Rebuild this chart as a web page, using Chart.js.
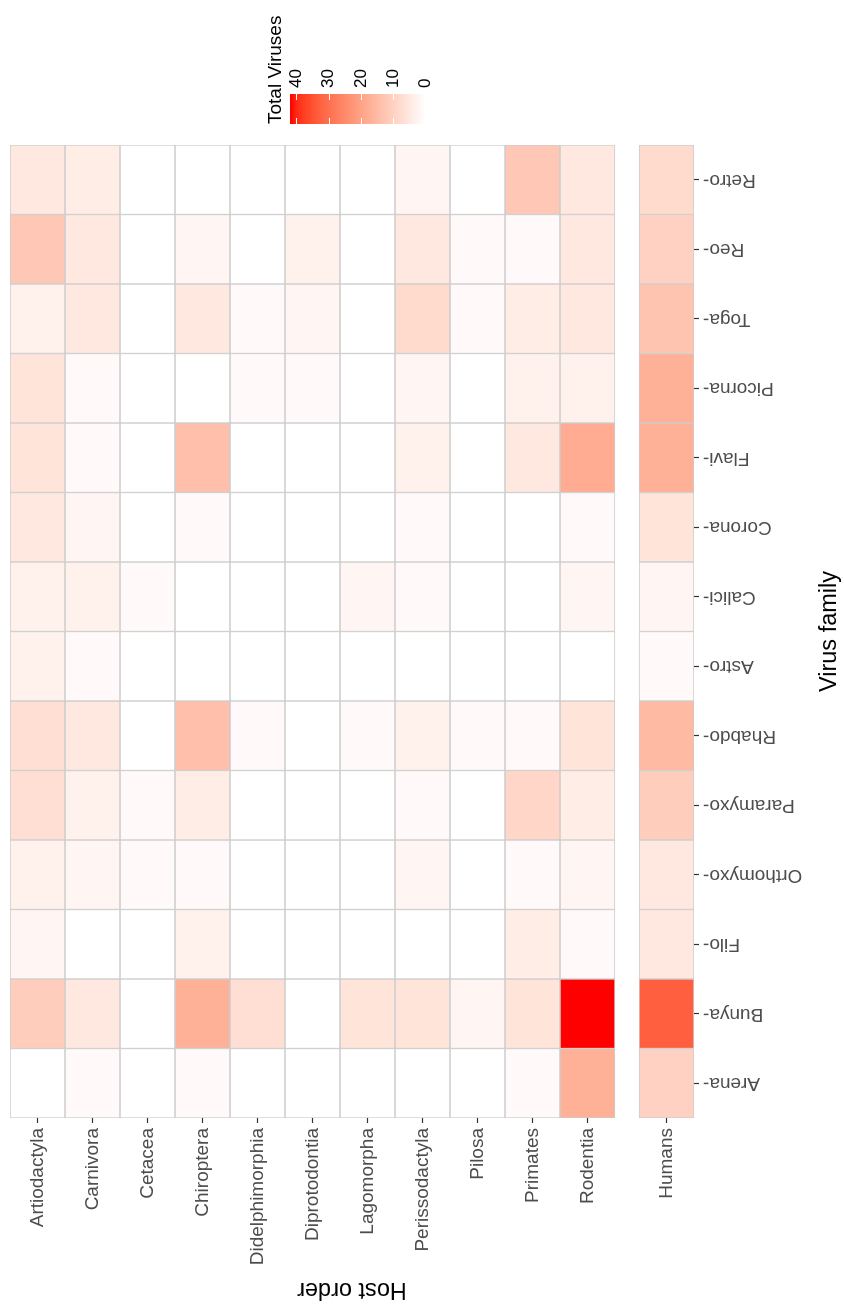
<!DOCTYPE html>
<html>
<head>
<meta charset="utf-8">
<script src="https://cdn.jsdelivr.net/npm/chart.js@4.4.1/dist/chart.umd.min.js"></script>
<style>
  html, body { margin: 0; padding: 0; background: #fff; overflow: hidden; }
  #page { width: 844px; height: 1306px; position: relative; }
  /* the ggplot figure is drawn upright, then turned a quarter turn counter-clockwise */
  #rot { position: absolute; left: 0; top: 0; width: 1306px; height: 844px;
         transform-origin: 0 0; transform: translateY(1306px) rotate(-90deg); }
  #heat { position: absolute; left: 0; top: 0; }
  #key { position: absolute; left: 1170px; top: 246px; }
</style>
</head>
<body>
<div id="page"><div id="rot">
  <canvas id="heat" width="1306" height="844"></canvas>
  <canvas id="key" width="136" height="196"></canvas>
</div></div>
<script>
const virusFamilies = ['Arena-', 'Bunya-', 'Filo-', 'Orthomyxo-', 'Paramyxo-', 'Rhabdo-', 'Astro-',
    'Calici-', 'Corona-', 'Flavi-', 'Picorna-', 'Toga-', 'Reo-', 'Retro-'];
const hostOrders = ['Artiodactyla', 'Carnivora', 'Cetacea', 'Chiroptera', 'Didelphimorphia', 'Diprotodontia',
    'Lagomorpha', 'Perissodactyla', 'Pilosa', 'Primates', 'Rodentia', 'Humans'];

// total viruses per virus family (same order as virusFamilies)
const artiodactyla    = [0, 11, 2, 3, 7, 7, 3, 3, 5, 6, 6, 3, 12, 5];
const carnivora       = [1, 5, 0, 2, 3, 5, 1, 3, 2, 1, 1, 5, 5, 4];
const cetacea         = [0, 0, 0, 1, 1, 0, 0, 1, 0, 0, 0, 0, 0, 0];
const chiroptera      = [1, 17, 3, 1, 4, 14, 0, 0, 1, 14, 0, 5, 2, 0];
const didelphimorphia = [0, 7, 0, 0, 0, 1, 0, 0, 0, 0, 1, 1, 0, 0];
const diprotodontia   = [0, 0, 0, 0, 0, 0, 0, 0, 0, 0, 1, 2, 3, 0];
const lagomorpha      = [0, 6, 0, 0, 0, 1, 0, 2, 0, 0, 0, 0, 0, 0];
const perissodactyla  = [0, 6, 0, 2, 1, 3, 0, 1, 1, 3, 2, 8, 5, 2];
const pilosa          = [0, 2, 0, 0, 0, 1, 0, 0, 0, 0, 0, 1, 1, 0];
const primates        = [1, 6, 4, 1, 9, 1, 0, 0, 0, 5, 3, 4, 1, 12];
const rodentia        = [17, 42, 1, 2, 4, 6, 0, 2, 1, 18, 3, 5, 5, 5];
const humans          = [10, 33, 5, 5, 11, 15, 1, 2, 6, 17, 17, 13, 10, 8];

const legendTicks = [0, 10, 20, 30, 40];

const hostValues = [artiodactyla, carnivora, cetacea, chiroptera, didelphimorphia, diprotodontia,
    lagomorpha, perissodactyla, pilosa, primates, rodentia, humans];

const fontFamily = '"Liberation Sans", Arial, Helvetica, sans-serif';
const axisGrey = '#4d4d4d';
const tileBorder = '#cccccc';

Chart.defaults.font.family = fontFamily;

// Humans sit in their own facet, a small gap below the other orders
const facetGap = 0.437;
const hostPositions = hostOrders.map((h, i) => (h === 'Humans' ? i + facetGap : i));
const scaleMax = Math.max(...hostValues.flat());

// white -> red, interpolated in CIELAB like scale_fill_gradient
function labToRgb(L, a, b) {
    const fy = (L + 16) / 116, fx = fy + a / 500, fz = fy - b / 200;
    const inv = f => (f ** 3 > 0.008856 ? f ** 3 : (f - 16 / 116) / 7.787);
    const X = 0.95047 * inv(fx), Y = inv(fy), Z = 1.08883 * inv(fz);
    const lin = [
        3.2406 * X - 1.5372 * Y - 0.4986 * Z,
        -0.9689 * X + 1.8758 * Y + 0.0415 * Z,
        0.0557 * X - 0.2040 * Y + 1.0570 * Z,
    ];
    return lin.map(c => {
        c = Math.min(1, Math.max(0, c));
        const s = c <= 0.0031308 ? 12.92 * c : 1.055 * c ** (1 / 2.4) - 0.055;
        return Math.round(s * 255);
    });
}
const lowLab = [100, 0, 0];
const highLab = [53.24, 80.09, 67.2];
function tileColor(v) {
    const t = Math.min(1, Math.max(0, v / scaleMax));
    const [r, g, b] = labToRgb(...lowLab.map((lo, k) => lo + (highLab[k] - lo) * t));
    return `rgb(${r},${g},${b})`;
}

const heatSets = hostValues.map((vals, i) => ({
    label: hostOrders[i],
    data: vals.map(() => [hostPositions[i] - 0.5, hostPositions[i] + 0.5]),
    backgroundColor: vals.map(tileColor),
    borderColor: tileBorder,
    borderWidth: 1,
    borderSkipped: false,
    grouped: false,
    barPercentage: 1,
    categoryPercentage: 1,
}));

const tickGrid = {
    display: true,
    drawOnChartArea: false,
    offset: false,
    drawTicks: true,
    tickLength: 5,
    tickWidth: 1.2,
    color: '#333333',
    tickColor: '#333333',
};

new Chart(document.getElementById('heat'), {
    type: 'bar',
    data: { labels: virusFamilies, datasets: heatSets },
    options: {
        responsive: false,
        animation: false,
        layout: { padding: { top: 10, right: 145, bottom: 0, left: 0 } },
        plugins: { legend: { display: false }, tooltip: { enabled: false } },
        scales: {
            x: {
                type: 'category',
                offset: true,
                grid: tickGrid,
                border: { display: false },
                ticks: {
                    autoSkip: false,
                    minRotation: 90,
                    maxRotation: 90,
                    padding: 4,
                    color: axisGrey,
                    font: { size: 19 },
                },
                title: {
                    display: true,
                    text: 'Virus family',
                    color: '#000',
                    font: { size: 23.5 },
                    padding: 0,
                },
                afterFit: scale => {
                    scale.height = 150;
                    scale.paddingLeft = 0;
                    scale.paddingRight = 0;
                },
            },
            y: {
                type: 'linear',
                reverse: true,
                min: -0.5,
                max: hostPositions[hostPositions.length - 1] + 0.5,
                grid: tickGrid,
                border: { display: false },
                afterBuildTicks: scale => {
                    scale.ticks = hostPositions.map(v => ({ value: v }));
                },
                ticks: {
                    autoSkip: false,
                    padding: 5,
                    color: axisGrey,
                    font: { size: 19 },
                    callback: (value, index) => hostOrders[index],
                },
                title: {
                    display: true,
                    text: 'Host order',
                    color: '#000',
                    font: { size: 23.5 },
                    padding: { top: 2.5, bottom: 0 },
                },
                afterFit: scale => {
                    scale.width = 188;
                    scale.paddingTop = 0;
                    scale.paddingBottom = 0;
                },
            },
        },
    },
});

// colour bar: one bar from 0 to the data maximum, filled with the same ramp
const barTicks = {
    id: 'barTicks',
    afterDatasetsDraw(chart) {
        const { ctx, chartArea, scales } = chart;
        ctx.save();
        ctx.strokeStyle = '#ffffff';
        ctx.lineWidth = 1;
        legendTicks.forEach(v => {
            const py = Math.round(scales.y.getPixelForValue(v)) + 0.5;
            ctx.beginPath();
            ctx.moveTo(chartArea.left, py);
            ctx.lineTo(chartArea.left + 6, py);
            ctx.moveTo(chartArea.right - 6, py);
            ctx.lineTo(chartArea.right, py);
            ctx.stroke();
        });
        ctx.restore();
    },
};

new Chart(document.getElementById('key'), {
    type: 'bar',
    data: {
        labels: [''],
        datasets: [{
            data: [[0, scaleMax]],
            backgroundColor: context => {
                const { chart } = context;
                if (!chart.chartArea) return tileColor(0);
                const y = chart.scales.y;
                const grad = chart.ctx.createLinearGradient(0, y.getPixelForValue(0), 0, y.getPixelForValue(scaleMax));
                for (let k = 0; k <= 20; k++) grad.addColorStop(k / 20, tileColor(scaleMax * k / 20));
                return grad;
            },
            borderWidth: 0,
            barPercentage: 1,
            categoryPercentage: 1,
        }],
    },
    options: {
        responsive: false,
        animation: false,
        layout: { padding: { top: 18, right: 0, bottom: 9, left: 12 } },
        plugins: {
            legend: { display: false },
            tooltip: { enabled: false },
            title: {
                display: true,
                text: 'Total Viruses',
                align: 'start',
                color: '#000',
                font: { size: 19, weight: 'normal' },
                padding: { top: 0, bottom: 3.2 },
            },
        },
        scales: {
            x: { display: false },
            y: {
                type: 'linear',
                position: 'right',
                min: 0,
                max: scaleMax,
                grid: { display: false, drawTicks: false },
                border: { display: false },
                afterBuildTicks: scale => {
                    scale.ticks = legendTicks.map(v => ({ value: v }));
                },
                ticks: { padding: 6, color: '#000', font: { size: 17 } },
                afterFit: scale => { scale.width = 94; },
            },
        },
    },
    plugins: [barTicks],
});
</script>
</body>
</html>
